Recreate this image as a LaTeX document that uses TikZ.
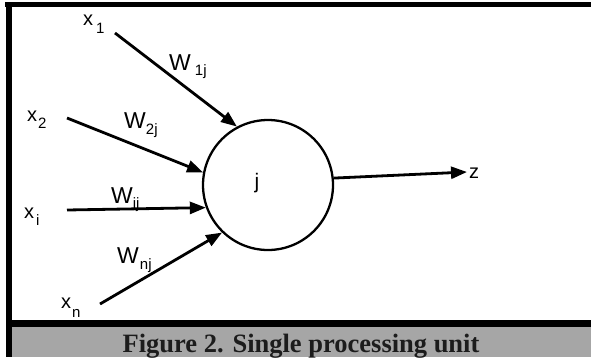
\documentclass[tikz,border=0pt]{standalone}
\usepackage{fontspec}
\setmainfont{Liberation Serif}
\newfontfamily\labfont{Liberation Sans}
\usetikzlibrary{arrows.meta}
\definecolor{capgrey}{RGB}{166,166,166}
\definecolor{captext}{RGB}{28,28,28}
% main letter, subscript, gap, drop
\newcommand{\sublab}[4]{#1\hspace{#3}\raisebox{-#4}{\fontsize{15}{15}\selectfont #2}}
\begin{document}
\begin{tikzpicture}[x=1pt,y=-1pt,
  lab/.style={inner sep=0pt, anchor=base west, font=\labfont\fontsize{20}{20}\selectfont},
  wlab/.style={lab, font=\labfont\fontsize{23}{23}\selectfont},
  arr/.style={line width=2.8pt, -{Triangle[length=16pt,width=12pt]}},
  unit/.style={circle, draw, line width=2.3pt, minimum size=130pt, inner sep=0pt},
  bar/.style={fill=black},
  capband/.style={fill=capgrey},
  caption/.style={inner sep=0pt, anchor=base, text=captext, font=\bfseries\fontsize{26.5}{30}\selectfont}]
\useasboundingbox (0,0) rectangle (591,359);
% frame
\fill[bar] (5,2) rectangle (591,7);
\fill[bar] (6,2) rectangle (12,357);
\fill[bar] (12,320) rectangle (591,326.5);
\fill[capband] (12,326.5) rectangle (591,357);
\node[caption] (cap) at (301,352) {Figure 2. Single processing unit};
% unit
\node[unit] (j) at (268,185) {};
\node[lab, anchor=base, font=\labfont\fontsize{21}{21}\selectfont] (jl) at (257,188) {j};
% labels
\node[lab] (x1) at (83,25) {\sublab{x}{1}{3pt}{8pt}};
\node[wlab] (w1) at (169,70) {\sublab{W}{1j}{4pt}{5pt}};
\node[lab] (x2) at (27,121) {\sublab{x}{2}{1pt}{7pt}};
\node[wlab] (w2) at (124,128) {\sublab{W}{2j}{0pt}{6pt}};
\node[wlab] (wi) at (111,203) {\sublab{W}{ij}{0pt}{5pt}};
\node[lab] (xi) at (24,218) {\sublab{x}{i}{2pt}{7pt}};
\node[wlab] (wn) at (117,263) {\sublab{W}{nj}{1pt}{6pt}};
\node[lab] (xn) at (61,308) {\sublab{x}{n}{1pt}{9pt}};
\node[lab] (z) at (469,178) {z};
% connector ends
\coordinate (s1) at (115,33);
\coordinate (s2) at (67,118);
\coordinate (si) at (67,210);
\coordinate (sn) at (100,304);
\coordinate (zt) at (467,172);
\draw[arr] (s1) -- (j.118);
\draw[arr] (s2) -- (j.169.5);
\draw[arr] (si) -- (j.200);
\draw[arr] (sn) -- (j.226.8);
\draw[arr] (j.6) -- (zt);
\end{tikzpicture}
\end{document}
